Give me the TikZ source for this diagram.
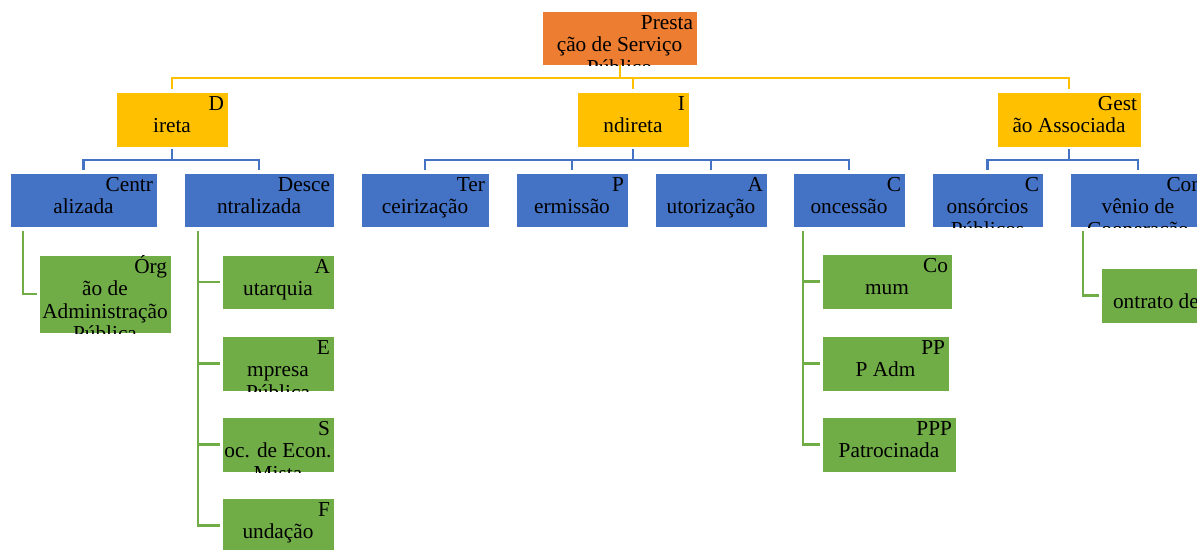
\documentclass[tikz,border=0pt]{standalone}
\usepackage{fontspec}
\setmainfont{Liberation Serif}
\usetikzlibrary{calc}

\definecolor{orgbox}{HTML}{ED7D31}
\definecolor{ylw}{HTML}{FFC000}
\definecolor{blu}{HTML}{4472C4}
\definecolor{grn}{HTML}{70AD47}

\tikzset{
  box/.style={rectangle, draw=white, line width=0.8pt, inner sep=0pt, outer sep=0pt},
  txt/.style={inner sep=0pt, outer sep=0pt, text=black, font=\fontsize{21.3}{22.3}\selectfont},
  ylink/.style={draw=ylw, line width=2pt},
  blink/.style={draw=blu, line width=2.5pt},
  glink/.style={draw=grn, line width=2.5pt},
}

% \bx{name}{left}{top}{right}{bottom}{fill}{first line}{further lines}
% first line sits at the top right, further lines are centred; text is clipped to the box
\newcommand\bx[8]{%
  \node[box, fill=#6, minimum width={(#4-#2)*1pt}, minimum height={(#5-#3)*1pt}]
    (#1) at ({(#2+#4)/2},{(#3+#5)/2}) {};
  \begin{scope}
    \clip (#1.south west) rectangle (#1.north east);
    \node[txt, anchor=base east] (#1-l0) at ($(#1.north east)+(-4,18.5)$) {#7};
    \foreach \txtline [count=\i] in {#8} {
      \node[txt, anchor=base] (#1-l\i) at ($(#1.north)+(0,{18.5+22.3*\i})$) {\txtline};
    }
  \end{scope}}

\begin{document}
\begin{tikzpicture}[x=1pt, y=-1pt]
  \fill[white] (0,0) rectangle (1197,549);
  \useasboundingbox (0,0) rectangle (1197,549);

  % root
  \bx{top}{542}{11}{697}{65}{orgbox}{Presta}{ção de Serviço, Público}

  % first level
  \bx{dir}{116}{92}{228}{147}{ylw}{D}{ireta}
  \bx{ind}{577}{92}{689}{147}{ylw}{I}{ndireta}
  \bx{ges}{997}{92}{1141}{147}{ylw}{Gest}{ão Associada}

  % second level
  \bx{cen}{10}{173}{157}{227}{blu}{Centr}{alizada}
  \bx{des}{184}{173}{334}{227}{blu}{Desce}{ntralizada}
  \bx{ter}{361}{173}{489}{227}{blu}{Ter}{ceirização}
  \bx{per}{516}{173}{628}{227}{blu}{P}{ermissão}
  \bx{aut}{655}{173}{767}{227}{blu}{A}{utorização}
  \bx{con}{793}{173}{905}{227}{blu}{C}{oncessão}
  \bx{cns}{932}{173}{1043}{227}{blu}{C}{onsórcios, Públicos}
  \bx{cnv}{1070}{173}{1206}{227}{blu}{Con}{vênio de, Cooperação}

  % third level
  \bx{org}{39}{255}{171}{333}{grn}{Órg}{ão de, Administração, Pública}
  \bx{atq}{222}{255}{334}{309}{grn}{A}{utarquia}
  \bx{emp}{222}{336}{334}{391}{grn}{E}{mpresa, Pública}
  \bx{soc}{222}{417}{334}{472}{grn}{S}{oc. de Econ., Mista}
  \bx{fun}{222}{498}{334}{553}{grn}{F}{undação}
  \bx{com}{822}{254}{952}{309}{grn}{Co}{mum}
  \bx{ppa}{822}{336}{949}{391}{grn}{PP}{P Adm}
  \bx{ppp}{822}{417}{956}{472}{grn}{PPP}{Patrocinada}
  \bx{ctr}{1101}{268}{1299}{323}{grn}{C}{ontrato de Programa}

  % root to first level
  \foreach \c in {dir,ind,ges}
    \draw[ylink, shorten >=3pt] (top.south) -- ++(0,13) -| (\c.north);

  % first to second level
  \foreach \c in {cen,des}
    \draw[blink, shorten <=2pt, shorten >=3pt] (dir.south) -- ++(0,13) -| (\c.north);
  \foreach \c in {ter,per,aut,con}
    \draw[blink, shorten <=2pt, shorten >=3pt] (ind.south) -- ++(0,13) -| (\c.north);
  \foreach \c in {cns,cnv}
    \draw[blink, shorten <=2pt, shorten >=3pt] (ges.south) -- ++(0,13) -| (\c.north);

  % second to third level
  \draw[glink, shorten >=2pt] ($(cen.south west)+(13,4)$) |- (org.west);
  \foreach \c in {atq,emp,soc,fun}
    \draw[glink, shorten >=2pt] ($(des.south west)+(14,4)$) |- (\c.west);
  \foreach \c in {com,ppa,ppp}
    \draw[glink, shorten >=2pt] ($(con.south west)+(10,4)$) |- (\c.west);
  \draw[glink, shorten >=2pt] ($(cnv.south west)+(13,4)$) |- (ctr.west);
\end{tikzpicture}
\end{document}
